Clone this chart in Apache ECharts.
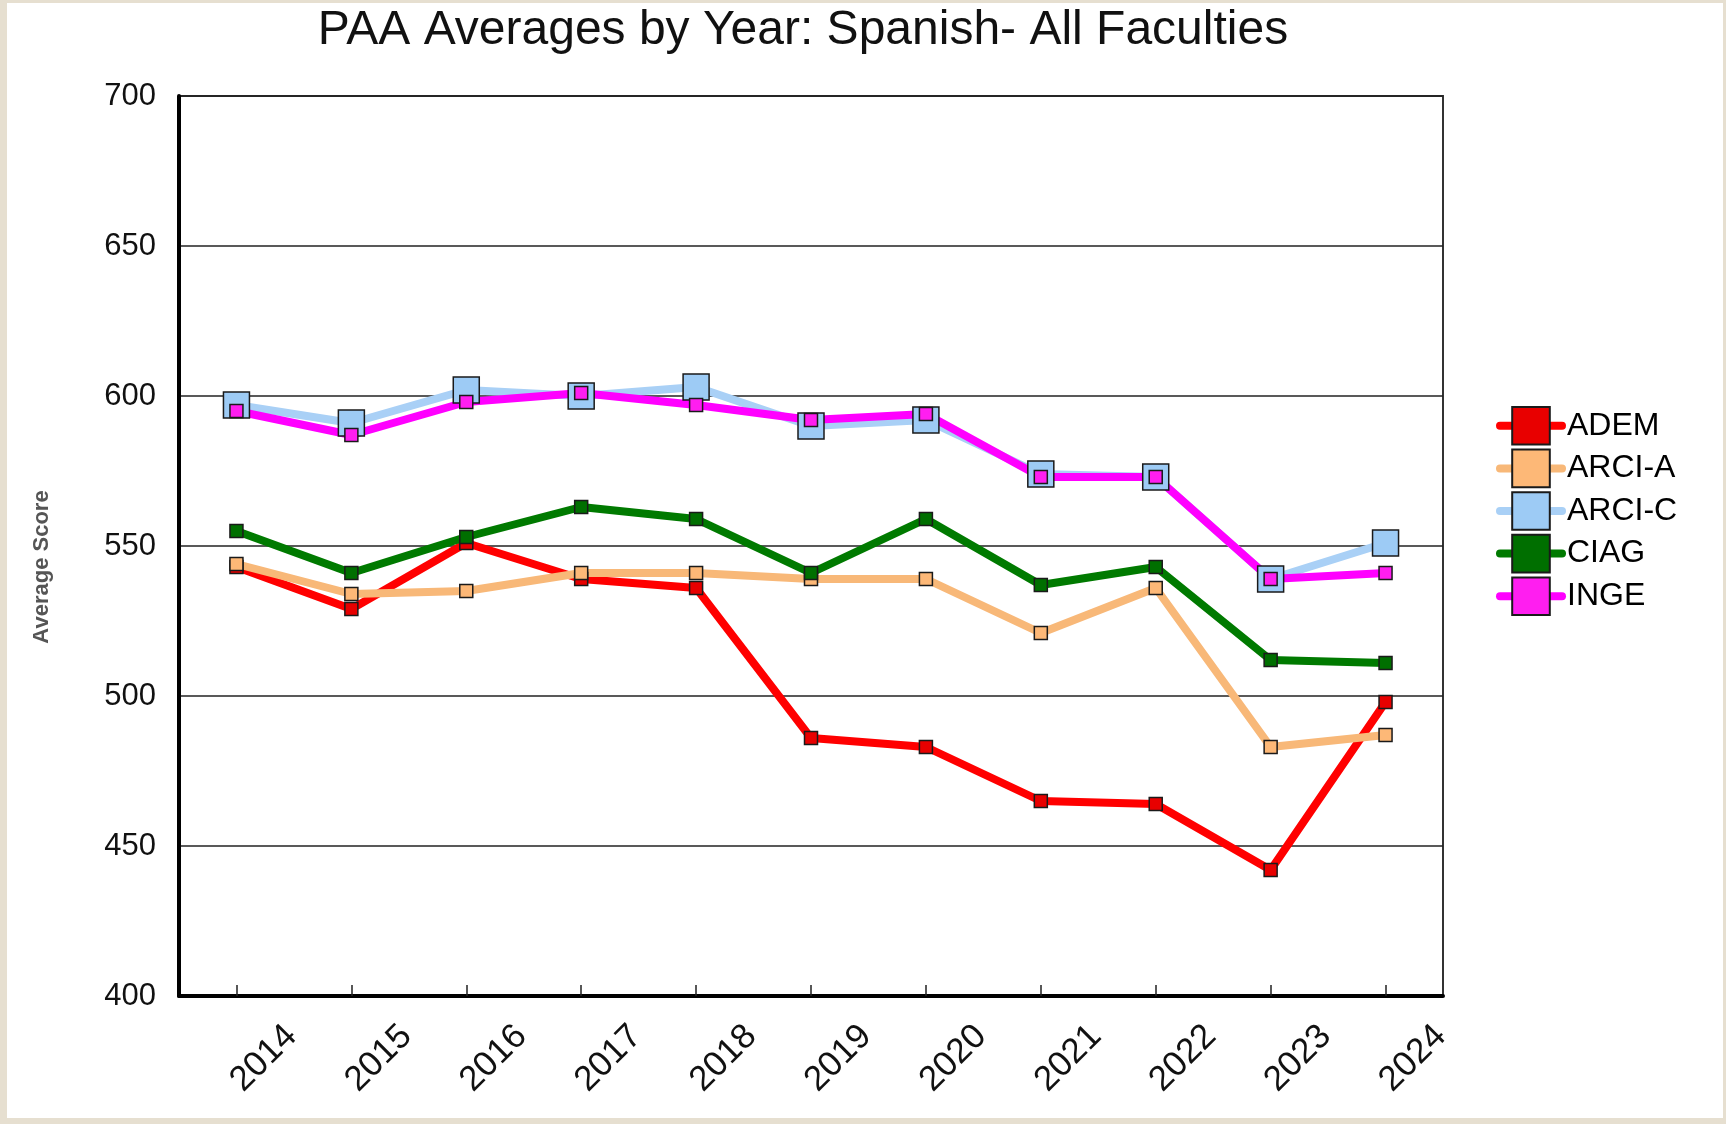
<!DOCTYPE html>
<html>
<head>
<meta charset="utf-8">
<title>PAA Averages by Year</title>
<script src="https://cdn.jsdelivr.net/npm/echarts@6/dist/echarts.min.js"></script>
<style>
  html, body {
    margin: 0;
    padding: 0;
    width: 1726px;
    height: 1124px;
    background: #e6dfd0;
    overflow: hidden;
  }
  #chart {
    position: absolute;
    left: 7px;
    top: 3px;
    width: 1716px;
    height: 1115px;
    background: #ffffff;
  }
</style>
</head>
<body>
<div id="chart"></div>
<script>
  // data
  const years = ['2014', '2015', '2016', '2017', '2018', '2019', '2020', '2021', '2022', '2023', '2024'];
  const yTicks = [400, 450, 500, 550, 600, 650, 700];

  const adem  = [543, 529, 551, 539, 536, 486, 483, 465, 464, 442, 498];
  const arciA = [544, 534, 535, 541, 541, 539, 539, 521, 536, 483, 487];
  const arciC = [597, 591, 602, 600, 603, 590, 592, 574, 573, 539, 551];
  const ciag  = [555, 541, 553, 563, 559, 541, 559, 537, 543, 512, 511];
  const inge  = [595, 587, 598, 601, 597, 592, 594, 573, 573, 539, 541];

  // series look: name, line colour, marker colour, marker size
  const seriesDefs = [
    { name: 'ADEM',   data: adem,  line: '#ff0000', fill: '#e80000', size: 13 },
    { name: 'ARCI-A', data: arciA, line: '#f8b878', fill: '#fdb877', size: 13 },
    { name: 'ARCI-C', data: arciC, line: '#a9d0f6', fill: '#9dcbf5', size: 26 },
    { name: 'CIAG',   data: ciag,  line: '#007a00', fill: '#006f00', size: 13 },
    { name: 'INGE',   data: inge,  line: '#ff00ff', fill: '#ff1ef0', size: 13 }
  ];

  const chart = echarts.init(document.getElementById('chart'), null, { renderer: 'canvas' });

  const series = seriesDefs.map(s => ({
    name: s.name,
    type: 'line',
    data: s.data,
    symbol: 'rect',
    symbolSize: s.size,
    showAllSymbol: true,
    lineStyle: { color: s.line, width: 8, join: 'round' },
    itemStyle: { color: s.fill, borderColor: '#1a1a1a', borderWidth: 1.5 },
    emphasis: { disabled: true }
  }));

  const option = {
    animation: false,
    title: {
      text: 'PAA Averages by Year: Spanish- All Faculties',
      left: 791,
      top: -1,
      textAlign: 'center',
      textStyle: {
        fontFamily: 'Liberation Sans, Arial, sans-serif',
        fontSize: 48,
        fontWeight: 'normal',
        color: '#111'
      }
    },
    legend: {
      orient: 'vertical',
      left: 1484,
      top: 398,
      itemWidth: 62,
      itemHeight: 47,
      itemGap: 3,
      data: seriesDefs.map(s => s.name),
      lineStyle: { width: 8, cap: 'round' },
      textStyle: {
        fontFamily: 'Liberation Sans, Arial, sans-serif',
        fontSize: 32,
        color: '#000'
      }
    },
    grid: {
      left: 172,
      right: 280,
      top: 93,
      bottom: 122,
      show: true,
      borderColor: '#333',
      borderWidth: 2
    },
    xAxis: {
      type: 'category',
      data: years,
      boundaryGap: true,
      axisLine: { lineStyle: { color: '#000', width: 4 } },
      axisTick: { show: true, inside: true, length: 11, alignWithLabel: true, interval: 0, lineStyle: { color: '#222', width: 1.5 } },
      axisLabel: {
        interval: 0,
        rotate: 45,
        align: 'left',
        verticalAlign: 'middle',
        margin: 90,
        fontFamily: 'Liberation Sans, Arial, sans-serif',
        fontSize: 35,
        color: '#111'
      },
      splitLine: { show: false }
    },
    yAxis: {
      type: 'value',
      min: yTicks[0],
      max: yTicks[yTicks.length - 1],
      interval: 50,
      name: 'Average Score',
      nameLocation: 'middle',
      nameRotate: 90,
      nameGap: 126,
      nameTextStyle: {
        fontFamily: 'Liberation Sans, Arial, sans-serif',
        fontSize: 22,
        fontWeight: 'bold',
        color: '#555',
        padding: [0, 42, 0, 0]
      },
      axisLine: { show: true, lineStyle: { color: '#000', width: 4 } },
      axisTick: { show: false },
      axisLabel: {
        margin: 23,
        fontFamily: 'Liberation Sans, Arial, sans-serif',
        fontSize: 31,
        color: '#111'
      },
      splitLine: { show: true, lineStyle: { color: '#222', width: 1.5 } }
    },
    series: series
  };

  chart.setOption(option);
</script>
</body>
</html>
